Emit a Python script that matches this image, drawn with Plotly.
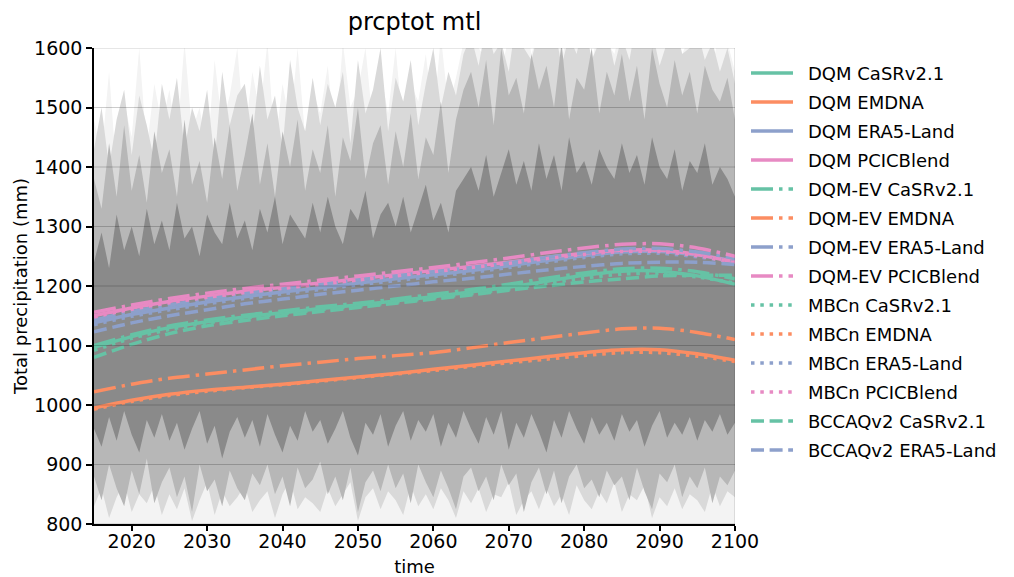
import plotly.graph_objects as go

# ---------------- data ----------------
years5 = [2015, 2020, 2025, 2030, 2035, 2040, 2045, 2050, 2055, 2060,
          2065, 2070, 2075, 2080, 2085, 2090, 2095, 2100]

dqm_casr = [1097, 1115, 1130, 1140, 1148, 1155, 1162, 1168, 1175, 1182,
            1190, 1198, 1208, 1218, 1225, 1225, 1217, 1203]
dqm_emdna = [995, 1008, 1018, 1025, 1030, 1035, 1041, 1047, 1053, 1060,
             1067, 1074, 1081, 1088, 1093, 1093, 1086, 1075]
dqm_era5 = [1138, 1152, 1163, 1173, 1182, 1190, 1197, 1205, 1212, 1219,
            1226, 1234, 1243, 1251, 1257, 1258, 1252, 1242]
dqm_pcic = [1150, 1163, 1174, 1183, 1191, 1198, 1205, 1212, 1219, 1226,
            1233, 1240, 1248, 1255, 1260, 1260, 1253, 1240]
dqmev_casr = [1100, 1118, 1133, 1143, 1151, 1158, 1165, 1171, 1178, 1186,
              1194, 1203, 1213, 1222, 1229, 1230, 1224, 1212]
dqmev_emdna = [1022, 1035, 1045, 1052, 1059, 1066, 1072, 1078, 1083, 1088,
               1096, 1105, 1113, 1121, 1128, 1129, 1122, 1110]
dqmev_era5 = [1143, 1157, 1168, 1178, 1187, 1195, 1202, 1210, 1217, 1224,
              1231, 1239, 1248, 1256, 1262, 1263, 1257, 1247]
dqmev_pcic = [1156, 1168, 1179, 1188, 1196, 1203, 1210, 1217, 1224, 1231,
              1239, 1247, 1256, 1264, 1270, 1271, 1264, 1250]
mbcn_casr = [1092, 1112, 1127, 1138, 1146, 1153, 1160, 1166, 1173, 1180,
             1187, 1195, 1204, 1213, 1220, 1221, 1215, 1205]
mbcn_emdna = [993, 1006, 1016, 1023, 1029, 1034, 1040, 1046, 1052, 1058,
              1065, 1071, 1077, 1083, 1088, 1088, 1082, 1073]
mbcn_era5 = [1135, 1149, 1160, 1170, 1179, 1187, 1194, 1202, 1209, 1216,
             1223, 1231, 1240, 1248, 1254, 1255, 1249, 1240]
mbcn_pcic = [1148, 1161, 1172, 1181, 1189, 1196, 1203, 1210, 1217, 1224,
             1231, 1238, 1246, 1253, 1258, 1258, 1251, 1239]
bccaq_casr = [1080, 1102, 1120, 1133, 1142, 1150, 1157, 1164, 1171, 1178,
              1185, 1193, 1200, 1207, 1212, 1217, 1218, 1218]
bccaq_era5 = [1123, 1138, 1150, 1160, 1170, 1178, 1186, 1193, 1200, 1207,
              1213, 1220, 1227, 1233, 1238, 1240, 1240, 1236]

# ensemble spread (annual), read as envelopes of the grey spaghetti
years = list(range(2015, 2101))
upper_light = [1480, 1420, 1560, 1390, 1510, 1450, 1600, 1430, 1540, 1470,
               1530, 1440, 1610, 1460, 1500, 1420, 1580, 1470, 1520, 1600,
               1450, 1560, 1490, 1610, 1430, 1540, 1470, 1600, 1450, 1530,
               1490, 1570, 1440, 1610, 1500, 1530, 1600, 1470, 1560, 1490,
               1600, 1460, 1540, 1510, 1590, 1480, 1620, 1500, 1550, 1610,
               1650, 1600, 1580, 1640, 1560, 1620, 1600, 1660, 1590, 1630,
               1610, 1650, 1580, 1640, 1600, 1620, 1570, 1650, 1610, 1590,
               1640, 1600, 1620, 1660, 1580, 1630, 1610, 1650, 1590, 1620,
               1600, 1640, 1570, 1630, 1610, 1560]
upper_lm = [1430, 1500, 1400, 1480, 1530, 1420, 1520, 1470, 1410, 1540,
            1480, 1550, 1430, 1500, 1460, 1530, 1410, 1560, 1470, 1520,
            1540, 1450, 1570, 1480, 1520, 1430, 1580, 1500, 1460, 1550,
            1470, 1540, 1500, 1560, 1440, 1580, 1490, 1530, 1600, 1460,
            1550, 1510, 1580, 1470, 1540, 1600, 1500, 1560, 1520, 1590,
            1620, 1570, 1640, 1590, 1610, 1560, 1650, 1600, 1580, 1630,
            1600, 1640, 1570, 1620, 1590, 1650, 1580, 1610, 1630, 1570,
            1620, 1580, 1650, 1600, 1630, 1570, 1610, 1640, 1590, 1600,
            1630, 1580, 1610, 1560, 1600, 1540]
upper_mid = [1380, 1330, 1440, 1350, 1470, 1360, 1420, 1340, 1460, 1390,
             1430, 1350, 1480, 1370, 1410, 1340, 1450, 1380, 1470, 1360,
             1420, 1490, 1370, 1440, 1350, 1460, 1400, 1480, 1360, 1430,
             1390, 1470, 1350, 1450, 1410, 1500, 1380, 1440, 1470, 1370,
             1460, 1400, 1490, 1380, 1450, 1420, 1510, 1390, 1480, 1530,
             1560, 1500, 1580, 1470, 1600, 1520, 1550, 1490, 1590, 1530,
             1570, 1500, 1610, 1480, 1550, 1530, 1600, 1490, 1560, 1520,
             1590, 1510, 1570, 1480, 1600, 1540, 1500, 1580, 1520, 1560,
             1490, 1570, 1530, 1510, 1550, 1480]
upper_core = [1240, 1290, 1230, 1320, 1260, 1300, 1250, 1330, 1270, 1310,
              1260, 1340, 1280, 1300, 1250, 1320, 1290, 1270, 1340, 1280,
              1310, 1260, 1330, 1290, 1350, 1270, 1320, 1300, 1280, 1340,
              1290, 1350, 1300, 1270, 1330, 1310, 1360, 1280, 1320, 1340,
              1300, 1350, 1290, 1330, 1370, 1310, 1340, 1290, 1360, 1380,
              1400, 1360, 1420, 1350, 1390, 1430, 1370, 1410, 1360, 1440,
              1380, 1420, 1360, 1450, 1390, 1410, 1370, 1430, 1400, 1380,
              1440, 1390, 1420, 1370, 1450, 1400, 1380, 1430, 1360, 1410,
              1390, 1440, 1370, 1400, 1380, 1350]
lower_core = [960, 930, 980, 940, 990, 950, 920, 975, 945, 985,
              940, 970, 925, 960, 990, 935, 965, 910, 955, 980,
              945, 975, 930, 985, 950, 920, 965, 940, 990, 955,
              975, 935, 960, 990, 945, 915, 970, 950, 985, 930,
              965, 990, 940, 975, 955, 985, 930, 970, 945, 990,
              960, 935, 980, 950, 990, 925, 970, 945, 985, 955,
              920, 975, 945, 990, 960, 935, 980, 950, 970, 940,
              985, 955, 975, 930, 965, 990, 945, 970, 950, 980,
              940, 975, 955, 985, 950, 970]
lower_mid = [880, 840, 900, 860, 830, 890, 850, 910, 835, 870,
             895, 845, 880, 820, 900, 855, 875, 830, 890, 860,
             840, 885, 865, 900, 850, 880, 830, 895, 860, 875,
             905, 850, 880, 840, 895, 820, 870, 890, 855, 900,
             860, 885, 835, 900, 870, 845, 890, 860, 825, 880,
             895, 855, 880, 840, 900, 865, 885, 820, 870, 895,
             850, 890, 835, 880, 900, 860, 875, 845, 890, 865,
             880, 840, 895, 855, 825, 885, 870, 900, 845, 880,
             860, 895, 835, 880, 865, 890]
lower_lm = [830, 860, 810, 845, 870, 820, 850, 835, 865, 815,
            850, 825, 860, 805, 840, 870, 815, 855, 830, 845,
            865, 820, 840, 855, 810, 850, 875, 825, 845, 835,
            820, 860, 830, 850, 870, 805, 845, 860, 825, 855,
            840, 815, 865, 830, 850, 825, 860, 840, 810, 855,
            835, 860, 820, 850, 845, 870, 815, 840, 855, 825,
            860, 830, 850, 815, 865, 840, 825, 855, 835, 870,
            820, 850, 840, 865, 810, 845, 830, 860, 825, 850,
            840, 820, 865, 830, 855, 845]
lower_light = [780, 760, 790, 770, 750, 785, 765, 775, 755, 790,
               770, 760, 785, 750, 780, 765, 790, 755, 775, 760,
               785, 770, 750, 790, 765, 780, 755, 775, 760, 785,
               770, 790, 755, 780, 765, 750, 785, 770, 760, 790,
               775, 755, 780, 765, 790, 760, 770, 785, 750, 775,
               790, 760, 780, 755, 770, 785, 765, 750, 790, 775,
               760, 780, 770, 790, 755, 765, 785, 760, 775, 750,
               790, 770, 760, 785, 765, 780, 755, 790, 770, 760,
               785, 750, 775, 790, 765, 780]

y_ticks = [800, 900, 1000, 1100, 1200, 1300, 1400, 1500, 1600]
x_ticks = [2020, 2030, 2040, 2050, 2060, 2070, 2080, 2090, 2100]

# ---------------- styles ----------------
GREEN, ORANGE, BLUE, PINK = "#66c2a5", "#fc8d62", "#8da0cb", "#e78ac3"
LW = 3.5
SOLID = "solid"
DASHDOT = "22px,6px,3.5px,6px"
DOT = "3.5px,5.8px"
DASH = "13px,5.6px"

series = [
    ("DQM CaSRv2.1", dqm_casr, GREEN, SOLID),
    ("DQM EMDNA", dqm_emdna, ORANGE, SOLID),
    ("DQM ERA5-Land", dqm_era5, BLUE, SOLID),
    ("DQM PCICBlend", dqm_pcic, PINK, SOLID),
    ("DQM-EV CaSRv2.1", dqmev_casr, GREEN, DASHDOT),
    ("DQM-EV EMDNA", dqmev_emdna, ORANGE, DASHDOT),
    ("DQM-EV ERA5-Land", dqmev_era5, BLUE, DASHDOT),
    ("DQM-EV PCICBlend", dqmev_pcic, PINK, DASHDOT),
    ("MBCn CaSRv2.1", mbcn_casr, GREEN, DOT),
    ("MBCn EMDNA", mbcn_emdna, ORANGE, DOT),
    ("MBCn ERA5-Land", mbcn_era5, BLUE, DOT),
    ("MBCn PCICBlend", mbcn_pcic, PINK, DOT),
    ("BCCAQv2 CaSRv2.1", bccaq_casr, GREEN, DASH),
    ("BCCAQv2 ERA5-Land", bccaq_era5, BLUE, DASH),
]

# layout geometry (pixels)
W, H = 1014, 577
L, R, T, B = 94, 735, 48, 524
PW, PH = R - L, B - T

fig = go.Figure()

bands = [
    (upper_light, lower_light, "#f3f3f3"),
    (upper_lm, lower_lm, "#d9d9d9"),
    (upper_mid, lower_mid, "#b7b7b7"),
    (upper_core, lower_core, "#8a8a8a"),
]
for up, lo, col in bands:
    fig.add_trace(go.Scatter(
        x=years + years[::-1], y=up + lo[::-1],
        fill="toself", fillcolor=col, mode="lines",
        line=dict(width=0, color=col), showlegend=False, hoverinfo="skip"))

for i, (name, vals, col, dash) in enumerate(series):
    fig.add_trace(go.Scatter(
        x=years5, y=vals, name=name, mode="lines", showlegend=False,
        line=dict(color=col, width=LW, dash=dash, shape="spline", smoothing=0.8)))

# horizontal gridlines drawn over the spaghetti
for yv in y_ticks:
    fig.add_shape(type="line", xref="paper", yref="y", x0=0, x1=1, y0=yv, y1=yv,
                  line=dict(color="rgba(0,0,0,0.2)", width=1), layer="above")
# light right border
fig.add_shape(type="line", xref="x", yref="paper", x0=2100, x1=2100, y0=0, y1=1,
              line=dict(color="rgba(0,0,0,0.2)", width=1), layer="above")

# manual legend (matplotlib-like: 40px line sample, 29px rows)
LEG_Y0, LEG_DY = 73, 29
LX0, LX1, TX = 751, 793, 806
for i, (name, vals, col, dash) in enumerate(series):
    py = LEG_Y0 + i * LEG_DY
    yp = 1 - (py - T) / PH
    fig.add_shape(type="line", xref="paper", yref="paper",
                  x0=(LX0 - L) / PW, x1=(LX1 - L) / PW, y0=yp, y1=yp,
                  line=dict(color=col, width=LW, dash=dash), layer="above")
    fig.add_annotation(text=name, xref="paper", yref="paper",
                       x=(TX - L) / PW, y=yp, xanchor="left", yanchor="middle",
                       showarrow=False, font=dict(size=18, color="black"))

FONT = "DejaVu Sans"
fig.update_layout(
    width=W, height=H,
    margin=dict(l=L, r=W - R, t=T, b=H - B, autoexpand=False),
    plot_bgcolor="white", paper_bgcolor="white",
    font=dict(family=FONT, size=19, color="black"),
    title=dict(text="prcptot mtl", x=(L + R) / 2 / W, xanchor="center",
               y=0.962, yanchor="middle", font=dict(size=24)),
    showlegend=False,
)
fig.update_xaxes(
    range=[2015, 2100], tickvals=x_ticks, automargin=False,
    ticklabelstandoff=-6,
    title=dict(text="time", standoff=10, font=dict(size=18)),
    showgrid=False, zeroline=False,
    showline=True, linecolor="black", linewidth=1.5,
    ticks="outside", ticklen=5, tickwidth=1.5, tickcolor="black",
    layer="above traces")
fig.update_yaxes(
    range=[800, 1600], tickvals=y_ticks, automargin=False,
    title=dict(text="Total precipitation (mm)", standoff=2, font=dict(size=18)),
    showgrid=False, zeroline=False,
    showline=True, linecolor="black", linewidth=1.5,
    ticks="outside", ticklen=6, tickwidth=1.5, tickcolor="black",
    layer="above traces")

fig.write_html("out.html")
